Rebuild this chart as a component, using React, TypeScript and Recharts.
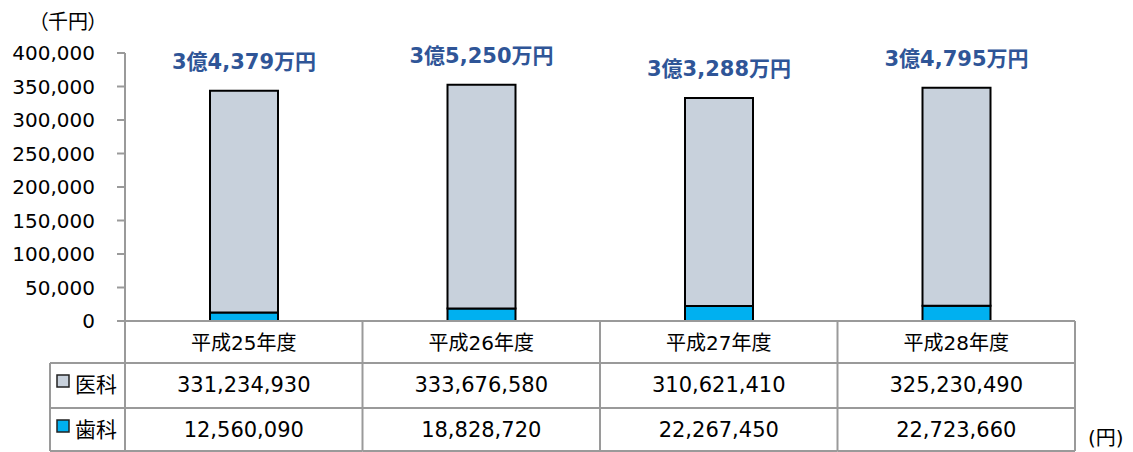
import { BarChart, Bar, XAxis, YAxis, LabelList } from 'recharts';

const years = ['平成25年度', '平成26年度', '平成27年度', '平成28年度'];
const medicalYen = [331234930, 333676580, 310621410, 325230490];
const dentalYen = [12560090, 18828720, 22267450, 22723660];
const yTicks = [0, 50000, 100000, 150000, 200000, 250000, 300000, 350000, 400000];
const seriesNames = ['医科', '歯科'];

const data = years.map((year, i) => ({
  year,
  medical: medicalYen[i] / 1000,
  dental: dentalYen[i] / 1000,
  total: medicalYen[i] + dentalYen[i],
}));

const W = 1117;
const H = 444;
const MARGIN = { top: 45, right: 50, left: 0, bottom: 0 };
const Y_WIDTH = 117;
const X_HEIGHT = 131;
const BAND = (W - MARGIN.left - MARGIN.right - Y_WIDTH) / years.length;

const FONT = '"DejaVu Sans", "Noto Sans CJK JP", sans-serif';
const GRID = '#9a9a9a';
const MED_COLOR = '#c8d1dc';
const DEN_COLOR = '#00b0f0';
const LABEL_COLOR = '#2f5597';

const fmt = (v: number) => v.toLocaleString('en-US');

// 3億4,379万円 style label from yen total
const okuLabel = (yen: number) =>
  `${Math.floor(yen / 1e8)}億${fmt(Math.floor((yen % 1e8) / 1e4))}万円`;

const TableTick = (props: any) => {
  const { x, y, index, payload } = props;
  const left = x - BAND / 2;
  const right = x + BAND / 2;
  const r1 = y + 42;
  const r2 = y + 87;
  const bottom = y + 130;
  const legendLeft = 42;
  const line = { stroke: GRID, strokeWidth: 2 };
  const rows = [medicalYen[index], dentalYen[index]];
  const rowTops = [r1, r2];
  return (
    <g fontFamily={FONT}>
      <line x1={right} y1={y} x2={right} y2={bottom} {...line} />
      <line x1={left} y1={r1} x2={right} y2={r1} {...line} />
      <line x1={left} y1={r2} x2={right} y2={r2} {...line} />
      <line x1={left} y1={bottom} x2={right} y2={bottom} {...line} />
      {index === 0 && (
        <g>
          <line x1={left} y1={y} x2={left} y2={bottom} {...line} />
          <line x1={legendLeft} y1={r1} x2={left} y2={r1} {...line} />
          <line x1={legendLeft} y1={r2} x2={left} y2={r2} {...line} />
          <line x1={legendLeft} y1={bottom} x2={left} y2={bottom} {...line} />
          <line x1={legendLeft} y1={r1} x2={legendLeft} y2={bottom} {...line} />
          {seriesNames.map((name, i) => (
            <g key={name}>
              <rect
                x={49}
                y={rowTops[i] + 12}
                width={12}
                height={12}
                fill={i === 0 ? MED_COLOR : DEN_COLOR}
                stroke="#222"
                strokeWidth={1.5}
              />
              <text x={67} y={rowTops[i] + 22} fontSize={21} fill="#000" dominantBaseline="central">
                {name}
              </text>
            </g>
          ))}
        </g>
      )}
      <text x={x} y={y + 22} fontSize={20} fill="#000" textAnchor="middle" dominantBaseline="central">
        {payload.value}
      </text>
      {rows.map((v, i) => (
        <text
          key={i}
          x={x}
          y={rowTops[i] + 22}
          fontSize={21}
          fill="#000"
          textAnchor="middle"
          dominantBaseline="central"
        >
          {fmt(v)}
        </text>
      ))}
    </g>
  );
};

const TotalLabel = (props: any) => {
  const { x, y, width, value } = props;
  return (
    <text
      x={x + width / 2}
      y={y - 22}
      fontFamily={FONT}
      fontSize={21}
      fontWeight="bold"
      fill={LABEL_COLOR}
      textAnchor="middle"
    >
      {okuLabel(value)}
    </text>
  );
};

export default function App() {
  return (
    <div style={{ position: 'relative', width: W, height: H, fontFamily: FONT }}>
      <BarChart width={W} height={H} data={data} margin={MARGIN}>
        <XAxis
          dataKey="year"
          height={X_HEIGHT}
          interval={0}
          tickSize={0}
          tickMargin={0}
          tickLine={false}
          axisLine={{ stroke: GRID, strokeWidth: 2 }}
          tick={<TableTick />}
        />
        <YAxis
          width={Y_WIDTH}
          domain={[0, 400000]}
          ticks={yTicks}
          interval={0}
          tickFormatter={fmt}
          tickSize={8}
          tickMargin={22}
          axisLine={{ stroke: GRID, strokeWidth: 2 }}
          tickLine={{ stroke: GRID, strokeWidth: 2 }}
          tick={{ fill: '#000', fontSize: 20, fontFamily: FONT }}
        />
        <Bar dataKey="dental" stackId="a" fill={DEN_COLOR} stroke="#000" strokeWidth={2} barSize={68} isAnimationActive={false} />
        <Bar dataKey="medical" stackId="a" fill={MED_COLOR} stroke="#000" strokeWidth={2} barSize={68} isAnimationActive={false}>
          <LabelList dataKey="total" content={<TotalLabel />} />
        </Bar>
      </BarChart>
      <div
        style={{
          position: 'absolute',
          left: 30,
          top: 2,
          fontSize: 20,
          lineHeight: '22px',
          fontFamily: '"Noto Sans CJK JP", sans-serif',
          fontFeatureSettings: '"palt"',
        }}
      >
        （千円）
      </div>
      <div style={{ position: 'absolute', left: 1080, top: 419, fontSize: 20, lineHeight: '22px' }}>(円)</div>
    </div>
  );
}
